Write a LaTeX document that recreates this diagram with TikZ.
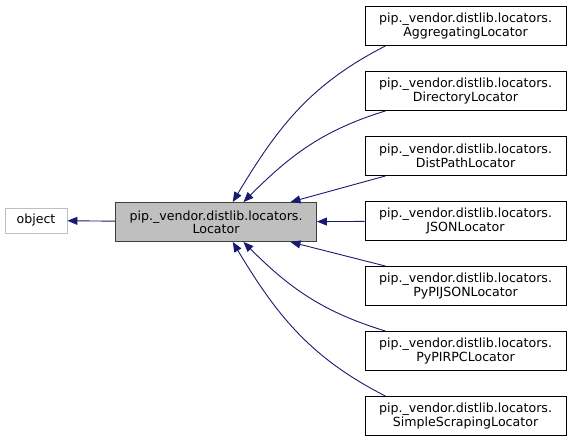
\documentclass[tikz,border=0pt]{standalone}
\usepackage{fontspec}
\setmainfont{DejaVu Sans}
\usepackage{xcolor}
\usetikzlibrary{arrows.meta}
\definecolor{edgeblue}{HTML}{191970}
\definecolor{locgray}{HTML}{BFBFBF}
\definecolor{locborder}{HTML}{404040}
\tikzset{
  classbox/.style={draw=black, line width=0.9pt, fill=white, align=center,
    minimum width=201pt, minimum height=39pt, inner sep=0pt,
    font=\fontsize{12.6}{13.4}\selectfont},
  inherit/.style={draw=edgeblue, line width=0.9pt,
    -{Triangle[length=10pt, width=8pt]}}
}

\begin{document}
\begin{tikzpicture}[x=1pt, y=-1pt]
\useasboundingbox (0,0) rectangle (572,444);

% Base classes
\node[draw=locgray, line width=0.9pt, minimum width=62pt, minimum height=25pt,
  inner sep=0pt, font=\fontsize{12.6}{13.4}\selectfont] (obj) at (36,220.5) {object};
\node[classbox, fill=locgray, draw=locborder] (loc) at (216,222)
  {pip.\_vendor.distlib.locators.\\Locator};

% Derived locators
\node[classbox] (agg)   at (465.5,26)  {pip.\_vendor.distlib.locators.\\AggregatingLocator};
\node[classbox] (dir)   at (465.5,91)  {pip.\_vendor.distlib.locators.\\DirectoryLocator};
\node[classbox] (dist)  at (465.5,156) {pip.\_vendor.distlib.locators.\\DistPathLocator};
\node[classbox] (json)  at (465.5,221) {pip.\_vendor.distlib.locators.\\JSONLocator};
\node[classbox] (pjson) at (465.5,286) {pip.\_vendor.distlib.locators.\\PyPIJSONLocator};
\node[classbox] (prpc)  at (465.5,351) {pip.\_vendor.distlib.locators.\\PyPIRPCLocator};
\node[classbox] (scrap) at (465.5,416) {pip.\_vendor.distlib.locators.\\SimpleScrapingLocator};

% Inheritance arrows
\draw[inherit] (loc) -- (obj);
\draw[inherit] (agg.194) to[out=207, in=59] (loc.50);
\draw[inherit] (dir.194) to[out=197, in=45] (loc.36);
\draw[inherit] (dist.194) -- (loc.15);
\draw[inherit] (json) -- (loc);
\draw[inherit] (pjson.166) -- (loc.-15);
\draw[inherit] (prpc.166) to[out=163, in=-45] (loc.-36);
\draw[inherit] (scrap.166) to[out=153, in=-59] (loc.-50);

\end{tikzpicture}
\end{document}
